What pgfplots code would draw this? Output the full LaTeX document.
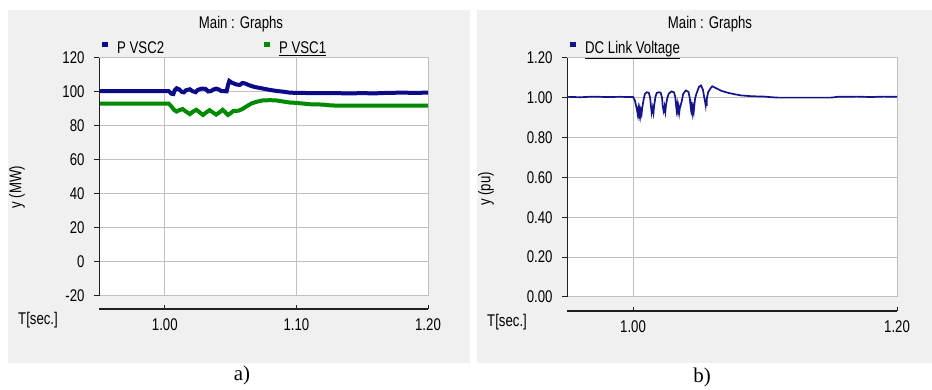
\documentclass[border=0pt]{standalone}
\usepackage{fontspec}
\setmainfont{Liberation Sans}[FakeStretch=0.78]
\newfontfamily\capfont{Liberation Serif}
\usepackage{pgfplots}
\pgfplotsset{compat=1.18}

\definecolor{panelbg}{HTML}{F0F0F0}
\definecolor{gridgray}{HTML}{C0C0C0}
\definecolor{axdark}{HTML}{202020}
\definecolor{vscblue}{HTML}{0A0A8A}
\definecolor{vscgreen}{HTML}{008A00}
\definecolor{dcblue}{HTML}{14148C}

\newcommand{\lblfont}{\fontsize{17}{19}\selectfont}

\pgfplotsset{
  panel/.style={
    scale only axis,
    xmin=0.95, xmax=1.20,
    axis background/.style={fill=white},
    axis line style={gridgray, line width=1bp},
    grid=major,
    major grid style={gridgray, line width=1bp},
    xticklabels={}, xtick style={draw=none},
    ytick pos=left,
    ytick style={axdark, line width=1bp},
    tick align=outside,
    major tick length=5bp,
    tick label style={font=\lblfont},
    yticklabel style={xshift=-6bp},
    clip=true,
    legend style={draw=none, fill=none, inner sep=0pt, font=\lblfont,
      anchor=west, cells={anchor=west},
      /tikz/every odd column/.append style={column sep=7bp}},
    legend image code/.code={\fill[##1, draw=none] (0bp,1bp) rectangle (6bp,6bp);},
  },
  timeaxis/.style={
    scale only axis,
    height=1bp,
    xmin=0.95, xmax=1.20, ymin=0, ymax=1,
    axis x line*=bottom,
    axis y line=none,
    x axis line style={axdark, line width=1.5bp},
    xtick style={axdark, line width=1bp},
    tick align=inside,
    major tick length=4bp,
    tick label style={font=\lblfont},
    xticklabel style={yshift=-6bp},
  },
}

\pgfplotstableread{
t     p
0.950 100.5
1.003 100.5
1.005 99.0
1.0065 98.8
1.0075 101.0
1.009 102.2
1.011 101.5
1.013 100.0
1.0145 99.8
1.016 101.0
1.019 101.6
1.021 100.5
1.0235 99.9
1.025 101.2
1.028 102.0
1.031 101.8
1.033 100.3
1.035 100.5
1.037 101.5
1.039 102.0
1.041 101.5
1.043 100.5
1.047 100.4
1.048 104.0
1.049 106.5
1.051 105.5
1.053 104.8
1.055 104.3
1.057 104.2
1.059 105.3
1.061 105.0
1.064 104.0
1.068 103.0
1.072 102.4
1.076 101.8
1.080 101.2
1.085 100.6
1.090 100.2
1.095 99.6
1.100 99.5
1.115 99.3
1.130 99.3
1.140 99.2
1.150 99.3
1.160 99.2
1.170 99.5
1.180 99.6
1.190 99.5
1.200 99.6
}\vsctwo

\pgfplotstableread{
t     p
0.950 93.2
1.003 93.2
1.005 91.5
1.007 89.5
1.009 88.5
1.011 89.3
1.0135 90.0
1.016 88.5
1.019 87.0
1.0215 88.5
1.024 89.5
1.0265 88.0
1.029 86.5
1.0315 88.0
1.034 89.3
1.0365 88.0
1.039 86.7
1.0415 88.0
1.044 89.5
1.046 88.0
1.048 86.5
1.050 87.5
1.052 88.8
1.056 89.0
1.059 90.0
1.062 91.5
1.066 93.3
1.070 94.3
1.074 95.0
1.080 95.2
1.085 95.0
1.090 94.4
1.095 93.8
1.100 93.6
1.105 93.2
1.110 92.8
1.115 92.7
1.120 92.6
1.125 92.2
1.130 92.0
1.200 92.0
}\vscone

\pgfplotstableread{
t      v
0.950  1.005
0.960  1.003
0.970  1.006
0.980  1.004
0.990  1.005
0.998  1.004
1.000  1.005
1.0015 0.985
1.003  0.940
1.0035 0.920
1.004  0.945
1.0045 0.915
1.005  0.940
1.0055 0.910
1.006  0.935
1.0065 0.920
1.007  0.950
1.008  0.990
1.009  1.020
1.0105 1.028
1.012  1.025
1.013  1.000
1.0135 0.965
1.014  0.935
1.0143 0.955
1.0146 0.920
1.015  0.945
1.0155 0.925
1.016  0.960
1.017  1.005
1.018  1.025
1.0198 1.028
1.021  1.025
1.022  1.000
1.0225 0.960
1.023  0.940
1.0234 0.960
1.0237 0.925
1.024  0.950
1.0245 0.930
1.025  0.965
1.026  1.000
1.027  1.020
1.029  1.032
1.031  1.028
1.032  1.005
1.0325 0.970
1.033  0.940
1.0335 0.965
1.034  0.935
1.0345 0.955
1.035  0.925
1.0355 0.950
1.036  0.960
1.037  0.985
1.038  1.020
1.040  1.037
1.042  1.030
1.043  1.000
1.0435 0.965
1.044  0.940
1.0445 0.960
1.045  0.925
1.0455 0.950
1.046  0.930
1.0465 0.965
1.047  0.995
1.048  1.020
1.050  1.055
1.0515 1.062
1.053  1.040
1.054  1.000
1.0545 0.985
1.055  0.965
1.0553 0.995
1.0558 0.960
1.056  1.000
1.057  1.030
1.059  1.050
1.060  1.058
1.063  1.048
1.067  1.035
1.072  1.025
1.077  1.018
1.082  1.012
1.090  1.008
1.100  1.006
1.105  1.003
1.110  1.001
1.150  1.001
1.155  1.005
1.170  1.006
1.180  1.004
1.190  1.006
1.200  1.005
}\dclink

\begin{document}
\begin{tikzpicture}[x=1bp, y=1bp]
  % overall canvas
  \path (0,0) rectangle (932,389);
  % panel backgrounds
  \fill[panelbg] (8,26) rectangle (470,379);
  \fill[panelbg] (477,26) rectangle (932,379);

  % ---------------- panel a: active power ----------------
  \begin{axis}[panel,
    at={(99bp,93bp)}, anchor=south west,
    width=329bp, height=238bp,
    ymin=-20, ymax=120,
    ytick={-20,0,20,40,60,80,100,120},
    yticklabels={-20,0,20,40,60,80,100,120},
    xtick={1.0,1.1,1.2},
    legend columns=2,
    legend style={at={(rel axis cs:0.009,1.042)},
      /tikz/every even column/.append style={column sep=98bp}},
  ]
    \addplot[vscblue, line width=4bp] table[x=t, y=p] {\vsctwo};
    \addlegendentry{P VSC2}
    \addplot[vscgreen, line width=4bp] table[x=t, y=p] {\vscone};
    \addlegendentry{\underline{P VSC1}}
    \draw[axdark, line width=1.5bp] (rel axis cs:0,0) -- (rel axis cs:0,1);
  \end{axis}
  \begin{axis}[timeaxis,
    at={(99bp,80bp)}, anchor=south west,
    width=329bp,
    xtick={1.0,1.1,1.2},
    xticklabels={1.00,1.10,1.20},
  ]
  \end{axis}
  \node[font=\lblfont] at (241,365) {Main : Graphs};
  \node[font=\lblfont, rotate=90] at (17,202) {y (MW)};
  \node[font=\lblfont, anchor=west, inner sep=0pt] at (18,69) {T[sec.]};
  \node[font=\capfont\fontsize{21}{23}\selectfont] at (242,14) {a)};

  % ---------------- panel b: DC link voltage ----------------
  \begin{axis}[panel,
    at={(567bp,92bp)}, anchor=south west,
    width=330bp, height=239bp,
    ymin=0, ymax=1.2,
    ytick={0,0.2,0.4,0.6,0.8,1.0,1.2},
    yticklabels={0.00,0.20,0.40,0.60,0.80,1.00,1.20},
    xtick={1.0,1.2},
    legend style={at={(rel axis cs:0.009,1.042)}},
  ]
    \addplot[dcblue, line width=1.7bp] table[x=t, y=v] {\dclink};
    \addlegendentry{\underline{DC Link Voltage}}
    \draw[axdark, line width=1.5bp] (rel axis cs:0,0) -- (rel axis cs:0,1);
  \end{axis}
  \begin{axis}[timeaxis,
    at={(567bp,78bp)}, anchor=south west,
    width=330bp,
    xtick={1.0,1.2},
    xticklabels={1.00,1.20},
  ]
  \end{axis}
  \node[font=\lblfont] at (710,365) {Main : Graphs};
  \node[font=\lblfont, rotate=90] at (486,200) {y (pu)};
  \node[font=\lblfont, anchor=west, inner sep=0pt] at (487,67) {T[sec.]};
  \node[font=\capfont\fontsize{21}{23}\selectfont] at (702,12) {b)};
\end{tikzpicture}
\end{document}
